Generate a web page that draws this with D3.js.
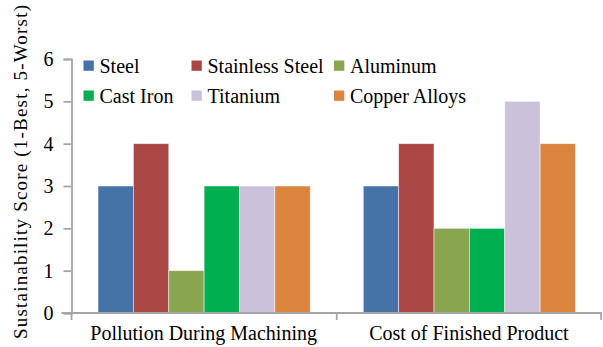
<!DOCTYPE html>
<html><head><meta charset="utf-8">
<script src="https://cdn.jsdelivr.net/npm/d3@7"></script>
<style>body{margin:0;background:#fff}svg{display:block}</style>
</head><body><svg id="c" width="603" height="347"></svg>
<script>
const categories = ["Pollution During Machining", "Cost of Finished Product"];
const seriesNames = ["Steel", "Stainless Steel", "Aluminum", "Cast Iron", "Titanium", "Copper Alloys"];
const steel = [3, 3];
const stainlessSteel = [4, 4];
const aluminum = [1, 2];
const castIron = [3, 2];
const titanium = [3, 5];
const copperAlloys = [3, 4];
const yTicks = [0, 1, 2, 3, 4, 5, 6];
const colors = ["#4572a7", "#aa4643", "#89a54e", "#00b050", "#ccc1da", "#db843d"];
const values = [steel, stainlessSteel, aluminum, castIron, titanium, copperAlloys];

const FONT = "'Liberation Serif', 'Times New Roman', serif";
const svg = d3.select("#c");
const mLeft = 71.5, mRight = 602, mTop = 59, mBottom = 313;
const x0 = d3.scaleBand().domain(categories).range([mLeft, mRight]).paddingInner(0).paddingOuter(0);
const x1 = d3.scaleBand().domain(seriesNames).range([0, x0.bandwidth()]).paddingInner(0).paddingOuter(0.75);
const y = d3.scaleLinear().domain([0, 6]).range([mBottom, mTop]);

// bars
const g = svg.append("g");
categories.forEach((c, ci) => {
  seriesNames.forEach((s, si) => {
    g.append("rect")
      .attr("x", x0(c) + x1(s))
      .attr("y", y(values[si][ci]))
      .attr("width", x1.bandwidth())
      .attr("height", y(0) - y(values[si][ci]))
      .attr("fill", colors[si])
      .attr("stroke", "#fff").attr("stroke-opacity", 0.6).attr("stroke-width", 0.8);
  });
});

// y axis
const yAxis = svg.append("g").attr("transform", `translate(${mLeft},0)`)
  .call(d3.axisLeft(y).tickValues(yTicks).tickSize(8).tickPadding(10).tickFormat(d3.format("d")));
yAxis.select(".domain").attr("stroke", "#a6a6a6").attr("stroke-width", 1.8);
yAxis.selectAll(".tick line").attr("stroke", "#a6a6a6").attr("stroke-width", 1.8);
yAxis.selectAll(".tick text").style("font-size", "20px").style("font-family", FONT).attr("fill", "#000");

// x axis
const xAxis = svg.append("g").attr("transform", `translate(0,${mBottom})`);
xAxis.append("line").attr("x1", mLeft - 10).attr("x2", mRight).attr("y1", 0).attr("y2", 0)
  .attr("stroke", "#a6a6a6").attr("stroke-width", 1.8);
const bounds = [mLeft, x0(categories[1]), mRight - 0.9];
bounds.forEach(b => xAxis.append("line").attr("x1", b).attr("x2", b).attr("y1", 0).attr("y2", 7)
  .attr("stroke", "#a6a6a6").attr("stroke-width", 1.8));
categories.forEach(c => {
  xAxis.append("text").attr("x", x0(c) + x0.bandwidth() / 2 - 0.5).attr("y", 27)
    .attr("text-anchor", "middle").style("font-size", "20px").style("font-family", FONT).text(c);
});

// y title
svg.append("text").attr("transform", "translate(27,172) rotate(-90)")
  .attr("text-anchor", "middle").style("font-size", "19px").style("font-family", FONT)
  .attr("textLength", 334).attr("lengthAdjust", "spacing")
  .text("Sustainability Score (1-Best, 5-Worst)");

// legend
const legX = [83.5, 191.5, 334];
const legY = [60.5, 90.5];
seriesNames.forEach((s, i) => {
  const col = i % 3, row = Math.floor(i / 3);
  svg.append("rect").attr("x", legX[col]).attr("y", legY[row]).attr("width", 10.3).attr("height", 10.3).attr("fill", colors[i]);
  svg.append("text").attr("x", legX[col] + 16).attr("y", legY[row] + 12)
    .style("font-size", "20px").style("font-family", FONT).text(s);
});
</script></body></html>
